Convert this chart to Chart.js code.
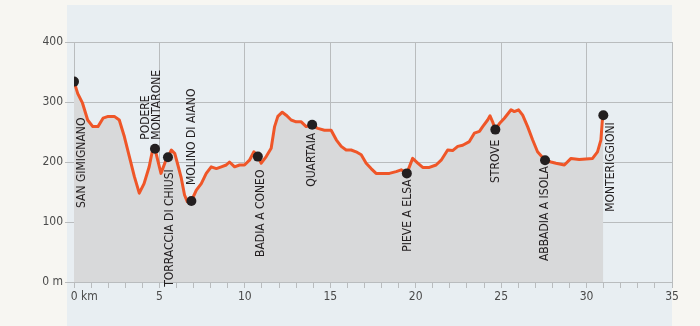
<!DOCTYPE html>
<html>
<head>
<meta charset="utf-8">
<script src="https://cdn.jsdelivr.net/npm/chart.js@4"></script>
<style>
  html, body { margin: 0; padding: 0; background: #f7f6f2; }
  #wrap { width: 700px; height: 326px; }
</style>
</head>
<body>
<div id="wrap"><canvas id="profileChart" width="700" height="326"></canvas></div>
<script>
// elevation profile, km along the route / metres
const profileKm = [0, 0.22, 0.5, 0.8, 1.1, 1.4, 1.7, 2.0, 2.36, 2.65, 2.95, 3.24, 3.53, 3.82, 4.1, 4.4, 4.6, 4.74, 4.9, 5.09, 5.38, 5.5, 5.7, 5.9, 6.08, 6.28, 6.47, 6.63, 6.87, 7.16, 7.45, 7.74, 8.03, 8.33, 8.62, 8.91, 9.1, 9.4, 9.69, 9.98, 10.27, 10.53, 10.76, 10.96, 11.25, 11.54, 11.74, 11.93, 12.19, 12.42, 12.71, 13.0, 13.3, 13.59, 13.94, 14.27, 14.66, 15.05, 15.35, 15.64, 15.93, 16.22, 16.51, 16.81, 17.1, 17.39, 17.68, 18.07, 18.46, 18.85, 19.15, 19.48, 19.82, 20.12, 20.41, 20.8, 21.19, 21.49, 21.87, 22.16, 22.46, 22.75, 23.14, 23.43, 23.73, 23.92, 24.21, 24.35, 24.5, 24.66, 24.9, 25.19, 25.58, 25.77, 26.02, 26.26, 26.55, 26.84, 27.13, 27.57, 27.92, 28.21, 28.7, 29.09, 29.57, 29.96, 30.35, 30.64, 30.84, 30.94, 30.98];
const profileElev = [334, 314, 298, 270, 259, 259, 273, 276, 276, 270, 242, 209, 176, 148, 164, 192, 220, 222, 203, 181, 203, 208, 220, 214, 195, 173, 145, 134, 135, 153, 164, 181, 192, 189, 192, 195, 200, 192, 195, 195, 203, 217, 209, 198, 209, 223, 259, 276, 283, 278, 270, 267, 267, 259, 262, 256, 253, 253, 237, 226, 220, 220, 217, 212, 198, 189, 181, 181, 181, 184, 187, 181, 206, 198, 191, 191, 195, 203, 220, 219, 226, 228, 234, 248, 251, 259, 270, 277, 267, 254, 264, 273, 287, 284, 287, 278, 259, 237, 217, 203, 200, 198, 195, 206, 204, 205, 206, 217, 237, 276, 278];

// towns along the way
const townNames = ["SAN GIMIGNANO", "PODERE\nMONTARONE", "TORRACCIA DI CHIUSI", "MOLINO DI AIANO", "BADIA A CONEO", "QUARTAIA", "PIEVE A ELSA", "STROVE", "ABBADIA A ISOLA", "MONTERIGGIONI"];
const townKm = [0, 4.74, 5.5, 6.87, 10.76, 13.94, 19.48, 24.66, 27.57, 30.98];
const townElev = [334, 222, 208, 135, 209, 262, 181, 254, 203, 278];

// axis ticks
const elevTicks = [0, 100, 200, 300, 400];
const kmMax = 35;

const FONT = '"Liberation Sans Narrow", "DejaVu Sans Condensed", "Roboto Condensed", sans-serif';
const GRID = "#b9bcbe";

// where each town label sits relative to its dot (px)
const labelPlacement = [
    { dx: 8, dy: 36, above: false },
    { dx: -4, dy: -9, above: true },
    { dx: 2, dy: 12, above: false },
    { dx: 0, dy: -16, above: true },
    { dx: 3, dy: 13, above: false },
    { dx: 0, dy: 8, above: false },
    { dx: 1, dy: 6, above: false },
    { dx: 1, dy: 10, above: false },
    { dx: 0, dy: 6, above: false },
    { dx: 8, dy: 7, above: false },
];

const panelBackground = {
    id: "panelBackground",
    beforeDraw(chart) {
        const { ctx, chartArea } = chart;
        ctx.save();
        ctx.fillStyle = "#e8eef2";
        ctx.fillRect(chartArea.left - 7, 5, chartArea.right - chartArea.left + 7, chart.height - 5);
        ctx.restore();
    }
};

const townLabels = {
    id: "townLabels",
    afterDatasetsDraw(chart) {
        const { ctx } = chart;
        const xs = chart.scales.x;
        const ys = chart.scales.y;
        ctx.save();
        ctx.font = "12px " + FONT;
        ctx.fillStyle = "#231f20";
        ctx.textBaseline = "middle";
        townNames.forEach((name, i) => {
            const p = labelPlacement[i];
            const px = xs.getPixelForValue(townKm[i]) + p.dx;
            const py = ys.getPixelForValue(townElev[i]) + p.dy;
            const lines = name.split("\n");
            ctx.save();
            ctx.translate(px, py);
            ctx.rotate(-Math.PI / 2);
            ctx.textAlign = p.above ? "left" : "right";
            lines.forEach((line, j) => {
                const off = (j - (lines.length - 1) / 2) * 11;
                ctx.fillText(line, 0, off);
            });
            ctx.restore();
        });
        ctx.restore();
    }
};

const profileCtx = document.getElementById("profileChart").getContext("2d");
new Chart(profileCtx, {
    type: "line",
    data: {
        datasets: [
            {
                label: "Towns",
                data: townKm.map((k, i) => ({ x: k, y: townElev[i] })),
                showLine: false,
                pointRadius: 5,
                pointBackgroundColor: "#231f20",
                pointBorderWidth: 0,
                order: 0,
            },
            {
                label: "Elevation",
                data: profileKm.map((k, i) => ({ x: k, y: profileElev[i] })),
                borderColor: "#ef5628",
                borderWidth: 3,
                borderJoinStyle: "round",
                backgroundColor: "#d8d9da",
                fill: "origin",
                pointRadius: 0,
                tension: 0,
                order: 1,
            },
        ],
    },
    options: {
        responsive: false,
        animation: false,
        layout: { padding: { left: 0, top: 42, right: 28, bottom: 0 } },
        plugins: {
            legend: { display: false },
            tooltip: { enabled: false },
        },
        scales: {
            x: {
                type: "linear",
                min: 0,
                max: kmMax,
                afterFit: (s) => { s.height = 44; },
                border: { display: false },
                grid: {
                    color: (c) => (c.tick && c.tick.value % 5 === 0 ? GRID : "rgba(0,0,0,0)"),
                    tickColor: GRID,
                    tickLength: 6,
                    lineWidth: 1,
                },
                ticks: {
                    stepSize: 1,
                    autoSkip: false,
                    maxRotation: 0,
                    padding: 2,
                    color: "#4a4a4a",
                    font: { family: FONT, size: 12 },
                    callback: (v) => (v === 0 ? "      0 km" : v % 5 === 0 ? String(v) : ""),
                },
            },
            y: {
                min: 0,
                max: 400,
                afterFit: (s) => { s.width = 74; },
                afterBuildTicks: (s) => { s.ticks = elevTicks.map((v) => ({ value: v })); },
                border: { display: false },
                grid: {
                    color: GRID,
                    tickLength: 9,
                    lineWidth: 1,
                },
                ticks: {
                    padding: 2,
                    color: "#4a4a4a",
                    font: { family: FONT, size: 12 },
                    callback: (v) => (v === 0 ? "0 m" : String(v)),
                },
            },
        },
    },
    plugins: [panelBackground, townLabels],
});
</script>
</body>
</html>
